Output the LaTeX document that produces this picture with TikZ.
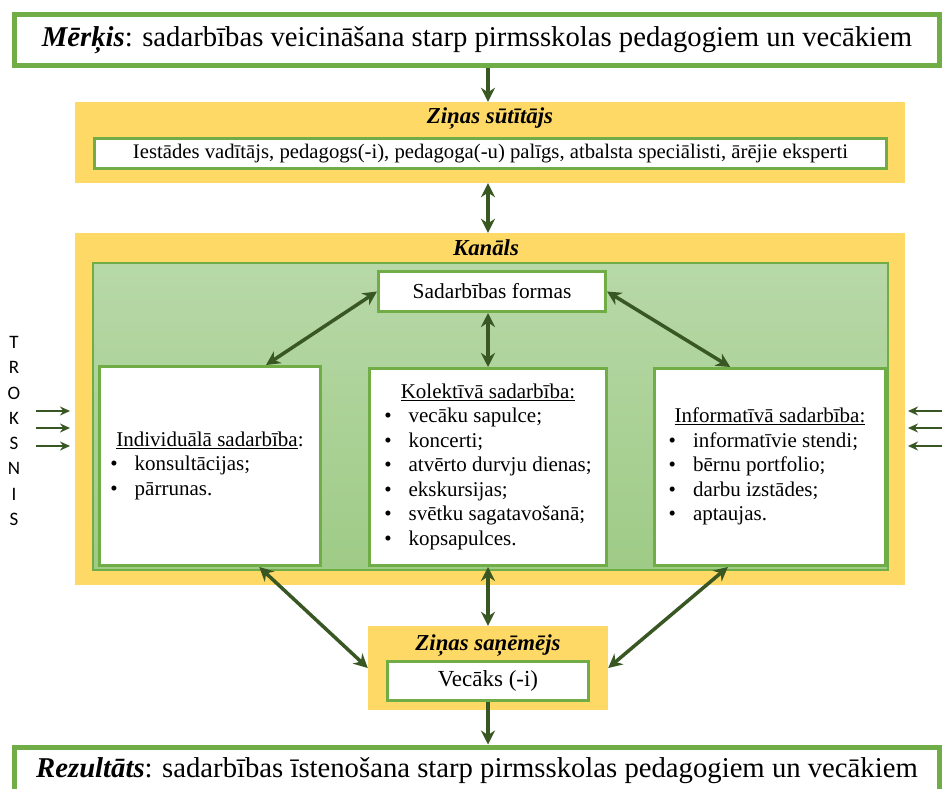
\documentclass[tikz,border=0pt]{standalone}
\usepackage{fontspec}
\setmainfont{Liberation Serif}
\newfontfamily\noisefont{Carlito}
\usetikzlibrary{arrows.meta,calc}
\definecolor{boxgreen}{RGB}{112,173,71}
\definecolor{boxyellow}{RGB}{255,217,102}
\definecolor{arrowgreen}{RGB}{56,87,35}
\definecolor{paneltop}{RGB}{184,216,168}
\definecolor{panelbot}{RGB}{158,203,134}

\begin{document}
\begin{tikzpicture}[x=1pt,y=-1pt,
        end box/.style={draw=boxgreen,line width=5pt,fill=white,minimum width=925pt,minimum height=51pt,
                        inner sep=0pt,font=\fontsize{28.7}{31}\selectfont},
        yellow box/.style={fill=boxyellow,minimum width=830pt,inner sep=0pt},
        white box/.style={draw=boxgreen,line width=3pt,fill=white,inner sep=0pt},
        head/.style={font=\fontsize{22.8}{25}\selectfont\bfseries\itshape,inner sep=0pt},
        list box/.style={white box,font=\fontsize{21}{24.5}\selectfont},
        link/.style={draw=arrowgreen,line width=3.5pt,{Stealth[length=14pt,width=14pt]}-{Stealth[length=14pt,width=14pt]}},
        single link/.style={draw=arrowgreen,line width=3.5pt,-{Stealth[length=14pt,width=14pt]}},
        noise link/.style={draw=arrowgreen,line width=2pt,-{Stealth[length=10pt,width=9pt]}}]

        \useasboundingbox (0,0) rectangle (947,789);
        \clip (0,0) rectangle (947,789);

        % Goal and result
        \node[end box] (goal) at (477,40) {\textbf{\textit{Mērķis}}: sadarbības veicināšana starp pirmsskolas pedagogiem un vecākiem};
        \node[end box,minimum height=48pt] (result) at (477,771) {\textbf{\textit{Rezultāts}}: sadarbības īstenošana starp pirmsskolas pedagogiem un vecākiem};

        % Sender
        \node[yellow box,minimum height=81pt] (sender) at (490,142.5) {};
        \node[head] (sendertitle) at (490,119) {Ziņas sūtītājs};
        \node[white box,minimum width=792pt,minimum height=30pt,font=\fontsize{20.7}{23}\selectfont] (senderbox) at (490.5,153.5)
            {Iestādes vadītājs, pedagogs(-i), pedagoga(-u) palīgs, atbalsta speciālisti, ārējie eksperti};

        % Channel
        \node[yellow box,minimum height=352pt] (kanals) at (490,409) {};
        \node[head] (kanalstitle) at (486,247.5) {Kanāls};
        \node[draw=boxgreen,line width=1.5pt,top color=paneltop,bottom color=panelbot,
              minimum width=795pt,minimum height=307pt] (panel) at (490.5,416.5) {};
        \node[white box,minimum width=227pt,minimum height=40pt,font=\fontsize{21.4}{24}\selectfont] (formas) at (492,291.5) {Sadarbības formas};
        \node[list box,minimum width=221pt,minimum height=199pt] (indiv) at (210,466) {%
            \begin{tabular}{@{}l@{\hspace{17pt}}l@{}}
            \multicolumn{2}{c}{\underline{Individuālā sadarbība}:}\\
            \textbullet & konsultācijas;\\
            \textbullet & pārrunas.
            \end{tabular}};
        \node[list box,minimum width=237pt,minimum height=197pt] (kol) at (488,467) {%
            \begin{tabular}{@{}l@{\hspace{17pt}}l@{}}
            \multicolumn{2}{c}{\underline{Kolektīvā sadarbība:}}\\
            \textbullet & vecāku sapulce;\\
            \textbullet & koncerti;\\
            \textbullet & atvērto durvju dienas;\\
            \textbullet & ekskursijas;\\
            \textbullet & svētku sagatavošanā;\\
            \textbullet & kopsapulces.
            \end{tabular}};
        \node[list box,minimum width=231pt,minimum height=197pt] (info) at (770,467) {%
            \begin{tabular}{@{}l@{\hspace{17pt}}l@{}}
            \multicolumn{2}{c}{\underline{Informatīvā sadarbība:}}\\
            \textbullet & informatīvie stendi;\\
            \textbullet & bērnu portfolio;\\
            \textbullet & darbu izstādes;\\
            \textbullet & aptaujas.
            \end{tabular}};

        % Receiver
        \node[yellow box,minimum width=240pt,minimum height=84pt] (recv) at (488,668) {};
        \node[head] (recvtitle) at (488,645) {Ziņas saņēmējs};
        \node[white box,minimum width=201pt,minimum height=39pt,font=\fontsize{23}{25}\selectfont] (recvbox) at (488,681) {Vecāks (-i)};

        % Noise
        \node[font=\noisefont\fontsize{19}{25.3}\selectfont,align=center,inner sep=0pt] (noise) at (14,431)
            {T\\R\\O\\K\\S\\N\\I\\S};
        \foreach \y [count=\i] in {411,428,446} {
            \coordinate (nl\i) at (36,\y);
            \coordinate (nlend\i) at (70,\y);
            \coordinate (nr\i) at (942,\y);
            \coordinate (nrend\i) at (908,\y);
            \draw[noise link] (nl\i) -- (nlend\i);
            \draw[noise link] (nr\i) -- (nrend\i);
        }

        % Connectors
        \draw[single link] (goal.south -| kol) -- (sender.north -| kol);
        \draw[link] (sender.south -| kol) -- (kanals.north -| kol);
        \draw[link] (formas.west) -- ($(indiv.north west)!0.75!(indiv.north east)$);
        \draw[link] (formas.east) -- ($(info.north west)!0.33!(info.north east)$);
        \draw[link] (formas.south -| kol) -- (kol.north);
        \draw[link] ($(indiv.south west)!0.72!(indiv.south east)$) -- (recv.west);
        \draw[link] (kol.south) -- (recv.north);
        \draw[link] ($(info.south west)!0.32!(info.south east)$) -- (recv.east);
        \draw[single link] (recvbox.south) -- (result.north -| recvbox);
\end{tikzpicture}
\end{document}
